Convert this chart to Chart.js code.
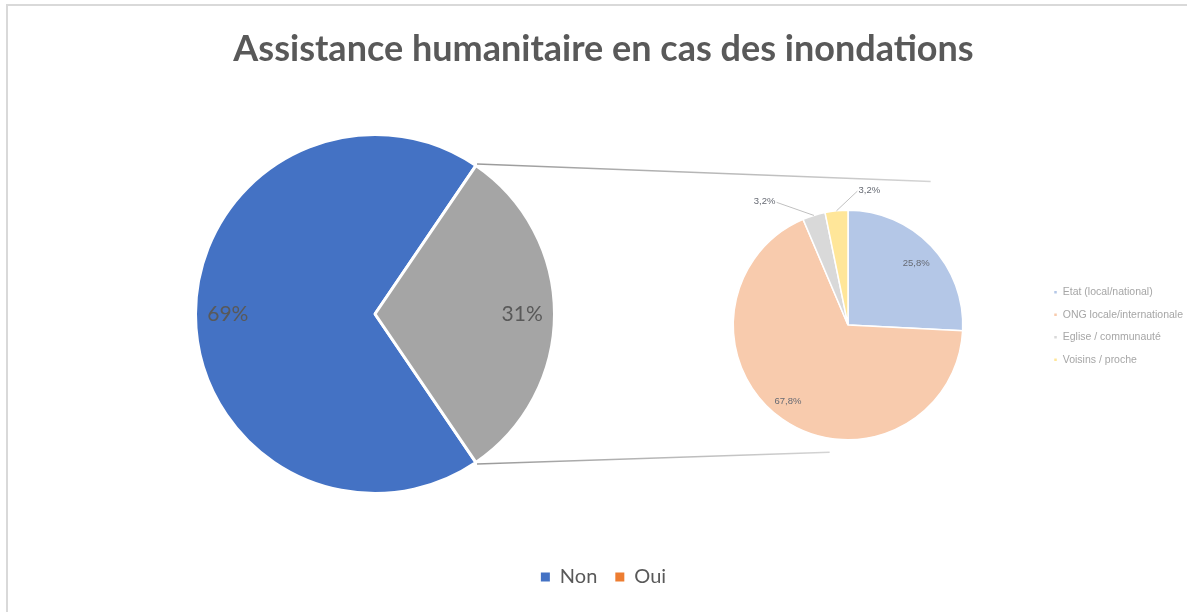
<!DOCTYPE html>
<html>
<head>
<meta charset="utf-8">
<script src="https://cdn.jsdelivr.net/npm/chart.js@4"></script>
<style>
	body { margin: 0; background: #fff; overflow: hidden; }
	#wrap { position: relative; width: 1187px; height: 612px; overflow: hidden; }
	#frame { position: absolute; left: 6px; top: 4px; width: 1300px; height: 700px; border-top: 2px solid #d9d9d9; border-left: 2px solid #d9d9d9; }
	#mainChart { position: absolute; left: 0; top: 0; }
	#subChart { position: absolute; left: 700px; top: 166px; }
</style>
</head>
<body>
<div id="wrap">
	<div id="frame"></div>
	<canvas id="mainChart" width="1187" height="612"></canvas>
	<canvas id="subChart" width="500" height="320"></canvas>
</div>
<script>
// main pie
const mainLabels = ['Non', 'Oui'];
const mainValues = [69, 31];
const mainColors = ['#4472C4', '#A5A5A5'];
const mainLegendColors = ['#4472C4', '#ED7D31'];

// detail pie (who helped)
const subLabels = ['Etat (local/national)', 'ONG locale/internationale', 'Eglise / communauté', 'Voisins / proche'];
const subValues = [25.8, 67.8, 3.2, 3.2];
const subColors = ['#b4c7e7', '#f8cbad', '#d9d9d9', '#ffe699'];

const titleText = 'Assistance humanitaire en cas des inondations';

// put the pie where we want it, title/legend keep the full width
function fixArea(cx, cy, r) {
	return {
		id: 'fixArea',
		afterLayout(chart) {
			chart.chartArea = { left: cx - r, top: cy - r, right: cx + r, bottom: cy + r, width: 2 * r, height: 2 * r };
		}
	};
}

const pctLabels = {
	id: 'pctLabels',
	afterDatasetsDraw(chart, args, opts) {
		const ctx = chart.ctx;
		const meta = chart.getDatasetMeta(0);
		const values = chart.data.datasets[0].data;
		ctx.save();
		ctx.font = opts.font;
		ctx.textAlign = 'center';
		ctx.textBaseline = 'middle';
		meta.data.forEach((arc, i) => {
			const p = arc.getProps(['x', 'y', 'startAngle', 'endAngle', 'outerRadius'], true);
			const mid = (p.startAngle + p.endAngle) / 2;
			let ang = mid;
			let dist = opts.dist;
			const spot = opts.spots ? opts.spots[i] : null;
			if (spot) {
				ang = (spot[0] - 90) * Math.PI / 180;
				dist = spot[1];
			}
			const lx = p.x + Math.cos(ang) * p.outerRadius * dist;
			const ly = p.y + Math.sin(ang) * p.outerRadius * dist;
			if (spot && spot[2]) {
				// leader line to the slice
				const ex = p.x + Math.cos(mid) * p.outerRadius;
				const ey = p.y + Math.sin(mid) * p.outerRadius;
				ctx.strokeStyle = opts.leaderColor;
				ctx.lineWidth = 1;
				ctx.beginPath();
				ctx.moveTo(lx + Math.sign(ex - lx) * 12, ly + 1);
				ctx.lineTo(ex, ey);
				ctx.stroke();
			}
			ctx.fillStyle = opts.color;
			ctx.fillText(opts.format(values[i]), lx, ly);
		});
		ctx.restore();
	}
};

const subChart = new Chart(document.getElementById('subChart'), {
	type: 'pie',
	data: {
		labels: subLabels,
		datasets: [{
			data: subValues,
			backgroundColor: subColors,
			borderColor: '#ffffff',
			borderWidth: 1.5
		}]
	},
	options: {
		responsive: false,
		animation: false,
		layout: { padding: { right: 7 } },
		plugins: {
			legend: {
				position: 'right',
				onClick: null,
				labels: {
					font: { family: 'Liberation Sans', size: 10.5 },
					color: '#a6a6a6',
					boxWidth: 4,
					boxHeight: 4,
					padding: 12
				}
			},
			tooltip: { enabled: false },
			pctLabels: {
				font: '9.5px "Liberation Sans"',
				color: '#666a73',
				leaderColor: '#c0c0c0',
				dist: 0.8,
				format: (v) => v.toFixed(1).replace('.', ',') + '%',
				spots: [[48, 0.8], [218, 0.85], [326, 1.3, true], [9, 1.19, true]]
			}
		}
	},
	plugins: [fixArea(148, 159, 115.5), pctLabels]
});

const connectors = {
	id: 'connectors',
	afterDraw(chart) {
		const arc = chart.getDatasetMeta(0).data[1].getProps(['x', 'y', 'startAngle', 'endAngle', 'outerRadius'], true);
		const sub = subChart.getDatasetMeta(0).data[0].getProps(['x', 'y', 'outerRadius'], true);
		const subCanvas = subChart.canvas;
		const scx = subCanvas.offsetLeft + sub.x;
		const scy = subCanvas.offsetTop + sub.y;
		const r = sub.outerRadius;
		const ends = [
			[arc.startAngle, scx + 0.72 * r, scy - 1.25 * r],
			[arc.endAngle, scx - 0.16 * r, scy + 1.11 * r]
		];
		const ctx = chart.ctx;
		ctx.save();
		ends.forEach(([a, tx, ty]) => {
			const sx = arc.x + Math.cos(a) * (arc.outerRadius + 2);
			const sy = arc.y + Math.sin(a) * (arc.outerRadius + 2);
			const grad = ctx.createLinearGradient(sx, sy, tx, ty);
			grad.addColorStop(0, '#9a9a9a');
			grad.addColorStop(1, '#d4d4d4');
			ctx.strokeStyle = grad;
			ctx.lineWidth = 1.5;
			ctx.beginPath();
			ctx.moveTo(sx, sy);
			ctx.lineTo(tx, ty);
			ctx.stroke();
		});
		ctx.restore();
	}
};

const mainChart = new Chart(document.getElementById('mainChart'), {
	type: 'pie',
	data: {
		labels: mainLabels,
		datasets: [{
			data: mainValues,
			backgroundColor: mainColors,
			borderColor: '#ffffff',
			borderWidth: 3
		}]
	},
	options: {
		responsive: false,
		animation: false,
		rotation: 145.8,
		layout: { padding: { top: 0, bottom: 15, left: 20 } },
		plugins: {
			title: {
				display: true,
				text: titleText,
				color: '#595959',
				font: { family: 'Lato', size: 36, weight: 'bold' },
				padding: { top: 28, bottom: 0 }
			},
			legend: {
				position: 'bottom',
				onClick: null,
				labels: {
					font: { family: 'Lato', size: 20 },
					color: '#595959',
					boxWidth: 9,
					boxHeight: 9,
					padding: 18,
					generateLabels: () => mainLabels.map((t, i) => ({
						text: t,
						fillStyle: mainLegendColors[i],
						strokeStyle: mainLegendColors[i],
						fontColor: '#595959',
						lineWidth: 0,
						hidden: false,
						index: i
					}))
				}
			},
			tooltip: { enabled: false },
			pctLabels: {
				font: '21px Lato',
				color: '#595959',
				dist: 0.82,
				format: (v) => v + '%'
			}
		}
	},
	plugins: [fixArea(375, 314, 181), pctLabels, connectors]
});
</script>
</body>
</html>
